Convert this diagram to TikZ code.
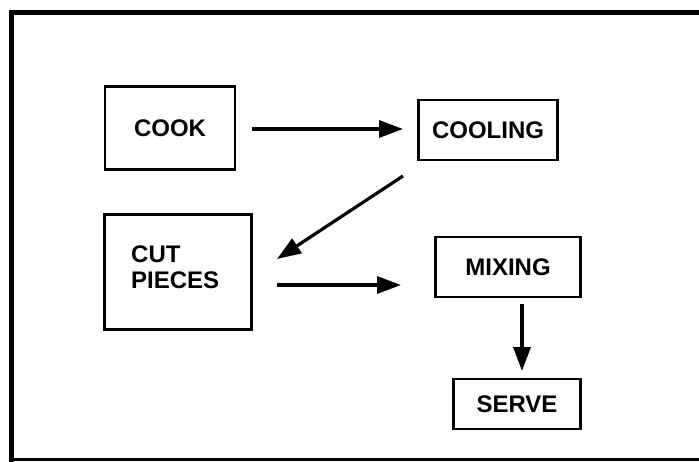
\documentclass[tikz,border=0pt]{standalone}
\usepackage{fontspec}
\setmainfont{Liberation Sans}
\usetikzlibrary{arrows.meta}
\begin{document}
\begin{tikzpicture}[x=1pt,y=-1pt,
  lbl/.style={font=\fontsize{24}{27}\selectfont\bfseries},
  stepbox/.style={lbl,draw=black,line width=2.8pt,minimum width=#1,inner sep=0pt},
  flow/.style={line width=3.2pt,-{Triangle[length=24pt,width=17pt]}},
  frame/.style={line width=5pt}]
  \useasboundingbox (0,0) rectangle (699,461);
  \clip (0,0) rectangle (699,461);
  % outer frame, open to the right
  \draw[frame] (710,12) -- (11,12) -- (11,470);
  \draw[line width=3pt] (11,459) -- (710,459);
  % process steps
  \node[stepbox=130pt,minimum height=83pt] (cook) at (170,128) {COOK};
  \node[stepbox=139pt,minimum height=60pt] (cool) at (488,130) {COOLING};
  \node[stepbox=147pt,minimum height=115pt] (cut) at (178,272) {};
  \node[lbl,anchor=north west,align=left,inner sep=0pt]
    (cuttext) at (131,246) {CUT\\[-1pt]PIECES};
  \node[stepbox=145pt,minimum height=60pt] (mix) at (508,267) {MIXING};
  \node[stepbox=127pt,minimum height=50pt] (serve) at (517,404) {SERVE};
  % connectors
  \coordinate (a1) at (252,129);
  \coordinate (a2) at (403,129);
  \draw[flow] (a1) -- (a2);
  \coordinate (d1) at (403,176);
  \coordinate (d2) at (277,259);
  \draw[flow] (d1) -- (d2);
  \coordinate (h1) at (277,285);
  \coordinate (h2) at (401,285);
  \draw[flow] (h1) -- (h2);
  \coordinate (v1) at (522,304);
  \coordinate (v2) at (522,371);
  \draw[flow] (v1) -- (v2);
\end{tikzpicture}
\end{document}
